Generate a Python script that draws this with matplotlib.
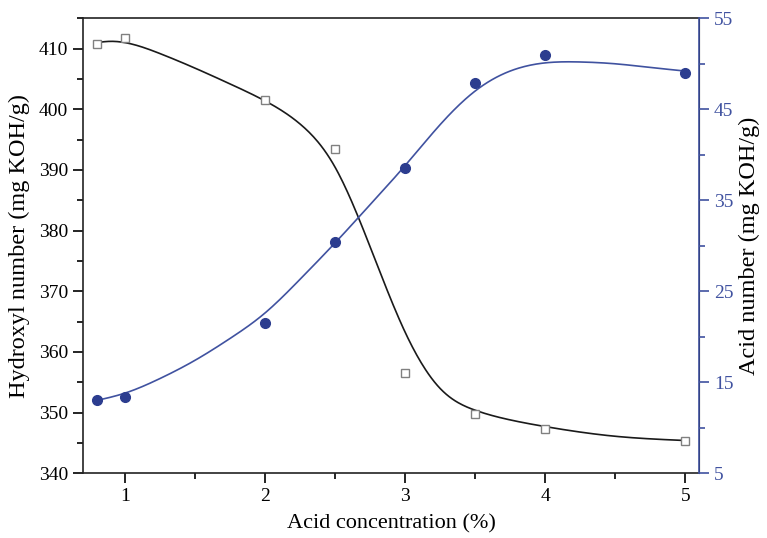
import numpy as np
import matplotlib
matplotlib.use("Agg")
import matplotlib.pyplot as plt
from matplotlib.ticker import MultipleLocator, FixedLocator

# measured points
conc = [0.8, 1, 2, 2.5, 3, 3.5, 4, 5]
hydroxyl = [410.8, 411.8, 401.6, 393.5, 356.6, 349.8, 347.3, 345.3]
acid = [13.0, 13.4, 21.5, 30.4, 38.6, 47.9, 51.0, 49.0]

# fitted trend lines (sampled along the fit)
fit_x = [0.8, 0.9, 1, 1.25, 1.5, 1.75, 2, 2.25, 2.5, 2.75, 3, 3.25, 3.5, 3.75, 4, 4.5, 5]
hydroxyl_fit = [411.0, 411.2, 411.0, 409.2, 406.8, 404.2, 401.4, 397.6, 390.5,
                377.4, 363.3, 354.0, 350.4, 348.8, 347.7, 346.1, 345.4]
acid_fit_x = [0.8, 1, 1.25, 1.5, 1.75, 2, 2.25, 2.5, 2.75, 3, 3.25, 3.5,
              3.75, 4, 4.25, 4.5, 4.75, 5]
acid_fit = [13.0, 13.8, 15.4, 17.4, 19.8, 22.6, 26.3, 30.3, 34.5, 38.8, 43.3,
            47.0, 49.2, 50.1, 50.2, 50.0, 49.6, 49.2]

BLUE = "#2c3d8f"
LINE_BLUE = "#4052a0"


def smooth(xs, ys, n=400):
    # natural cubic spline through the samples
    xs = np.asarray(xs, float)
    ys = np.asarray(ys, float)
    k = len(xs)
    h = np.diff(xs)
    A = np.zeros((k, k))
    b = np.zeros(k)
    A[0, 0] = A[-1, -1] = 1
    for j in range(1, k - 1):
        A[j, j - 1] = h[j - 1]
        A[j, j] = 2 * (h[j - 1] + h[j])
        A[j, j + 1] = h[j]
        b[j] = 6 * ((ys[j + 1] - ys[j]) / h[j] - (ys[j] - ys[j - 1]) / h[j - 1])
    M = np.linalg.solve(A, b)
    xx = np.linspace(xs[0], xs[-1], n)
    i = np.clip(np.searchsorted(xs, xx) - 1, 0, k - 2)
    hi = h[i]
    a = xs[i + 1] - xx
    c = xx - xs[i]
    yy = (M[i] * a**3 + M[i + 1] * c**3) / (6 * hi) \
        + (ys[i] / hi - M[i] * hi / 6) * a + (ys[i + 1] / hi - M[i + 1] * hi / 6) * c
    return xx, yy


plt.rcParams["font.family"] = ["Liberation Serif", "DejaVu Serif"]
plt.rcParams["xtick.direction"] = "out"
plt.rcParams["ytick.direction"] = "out"

fig = plt.figure(figsize=(7.67, 5.38), dpi=100)
ax = fig.add_axes([0.1078, 0.1203, 0.8039, 0.8457])
ax2 = ax.twinx()

hx, hy = smooth(fit_x, hydroxyl_fit)
ax.plot(hx, hy, color="#1a1a1a", lw=1.2, zorder=2)
ax.plot(conc, hydroxyl, ls="none", marker="s", ms=5.5, mfc="white",
        mec="#808080", mew=1.0, zorder=3)

cx, cy = smooth(acid_fit_x, acid_fit)
ax2.plot(cx, cy, color=LINE_BLUE, lw=1.2, zorder=2)
ax2.plot(conc, acid, ls="none", marker="o", ms=7, mfc=BLUE, mec=BLUE, zorder=3)

ax.set_xlim(0.7, 5.1)
ax.set_ylim(340, 415)
ax2.set_ylim(5, 55)

ax.xaxis.set_major_locator(MultipleLocator(1))
ax.xaxis.set_minor_locator(MultipleLocator(0.5))
ax.yaxis.set_major_locator(MultipleLocator(10))
ax.yaxis.set_minor_locator(MultipleLocator(5))
ax2.yaxis.set_major_locator(FixedLocator([5, 15, 25, 35, 45, 55]))
ax2.yaxis.set_minor_locator(FixedLocator([10, 20, 30, 40, 50]))

ax.tick_params(which="major", length=7, width=1.2, labelsize=14)
ax.tick_params(which="minor", length=4, width=1.2)
ax2.tick_params(which="major", length=7, width=1.2, labelsize=14,
                colors=LINE_BLUE)
ax2.tick_params(which="minor", length=4, width=1.2, colors=LINE_BLUE)

for s in ["left", "bottom", "top"]:
    ax.spines[s].set_linewidth(1.2)
    ax.spines[s].set_color("#222222")
ax2.spines["right"].set_color(LINE_BLUE)
ax2.spines["right"].set_linewidth(1.2)
ax2.spines["left"].set_visible(False)
ax2.spines["top"].set_visible(False)
ax2.spines["bottom"].set_visible(False)

ax.set_xlabel("Acid concentration (%)", fontsize=16, labelpad=7)
ax.set_ylabel("Hydroxyl number (mg KOH/g)", fontsize=17.5, labelpad=6)
ax2.set_ylabel("Acid number (mg KOH/g)", fontsize=17.5, labelpad=4)

fig.savefig("out.png", dpi=100)
